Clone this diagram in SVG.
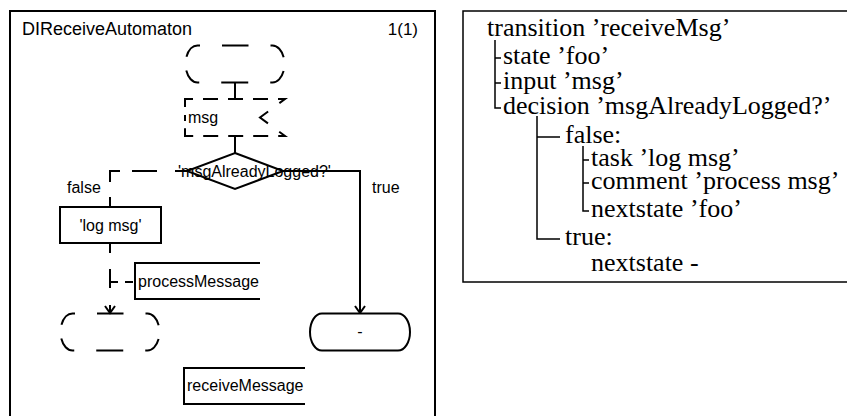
<svg xmlns="http://www.w3.org/2000/svg" width="847" height="416" viewBox="0 0 847 416">
  <style>
    .frame { fill: #fff; stroke: #000; stroke-width: 2; }
    .line { fill: none; stroke: #000; stroke-width: 2; }
    .shape { fill: #fff; stroke: #000; stroke-width: 2; }
    .ghost { fill: none; stroke: #000; stroke-width: 2; }
    .state-dash { stroke-dasharray: 13.5 22 19.2 14 19.2 22 27 22 19.2 14 19.2 22 13.5 0; }
    .lbl { font-family: "Liberation Sans", Arial, sans-serif; font-size: 16px; fill: #000; }
    .title { font-family: "Liberation Sans", Arial, sans-serif; font-size: 18px; fill: #000; }
    .pageno { font-family: "Liberation Sans", Arial, sans-serif; font-size: 17px; fill: #000; }
    .tree { font-family: "Liberation Serif", "Times New Roman", serif; font-size: 26px; fill: #000; }
    .branch { fill: none; stroke: #000; stroke-width: 1.5; }
  </style>
  <defs>
    <marker id="vhead" markerUnits="userSpaceOnUse" markerWidth="12" markerHeight="12" refX="0" refY="0" viewBox="-8 -6 10 12" orient="auto" overflow="visible">
      <path d="M-7,-5 L0,0 L-7,5" fill="none" stroke="#000" stroke-width="2"/>
    </marker>
  </defs>

  <!-- process page frame -->
  <g id="page">
    <rect class="frame" x="10" y="11" width="425" height="420"/>
    <text class="title" x="22" y="35">DIReceiveAutomaton</text>
    <text class="pageno" x="418" y="35" text-anchor="end">1(1)</text>
  </g>

  <!-- connectors -->
  <g id="connectors">
    <path class="line" d="M235,83 V99"/>
    <path class="line" d="M235,136 V153"/>
    <path class="line" d="M187,171 H110 V207" stroke-dasharray="12 18 25 12 21 15 10"/>
    <path class="line" d="M283,171 H360 V313" marker-end="url(#vhead)"/>
    <path class="line" d="M110,243 V313" stroke-dasharray="10 16 19 17 8" marker-end="url(#vhead)"/>
    <path class="line" d="M110,282 H135" stroke-dasharray="8 7 8 2"/>
  </g>

  <!-- state 'foo' (start) -->
  <g id="state-start">
    <path class="ghost state-dash" d="M235,45.5 H272.5 A12 18.5 0 0 1 272.5,82.5 H197.5 A12 18.5 0 0 1 197.5,45.5 Z"/>
  </g>

  <!-- input 'msg' -->
  <g id="input-msg">
    <path class="ghost" d="M185,117.5 V99 H285 L260,117.5 L285,136 H185 Z" stroke-dasharray="2.5 8 16 10 15 10 15 10 15 10 14 14 20 14 14 10 15 10 15 10 15 10 16 7.3 3.5 0"/>
    <text class="lbl" x="188" y="123">msg</text>
  </g>

  <!-- decision 'msgAlreadyLogged?' -->
  <g id="decision">
    <path class="shape" d="M235,153 L283,171 L235,189 L187,171 Z"/>
    <text class="lbl" x="178" y="177">'msgAlreadyLogged?'</text>
  </g>

  <g id="answer-false">
    <text class="lbl" x="67" y="193">false</text>
  </g>
  <g id="answer-true">
    <text class="lbl" x="372" y="193">true</text>
  </g>

  <!-- task 'log msg' -->
  <g id="task-log">
    <rect class="shape" x="60" y="207" width="101" height="36"/>
    <text class="lbl" x="110.5" y="231" text-anchor="middle">'log msg'</text>
  </g>

  <!-- comment attached to the task -->
  <g id="comment-process">
    <path class="line" d="M260,263 H135 V299 H260"/>
    <text class="lbl" x="138" y="287">processMessage</text>
  </g>

  <!-- nextstate 'foo' -->
  <g id="state-end">
    <path class="ghost state-dash" d="M110,313.5 H147.5 A12 18.5 0 0 1 147.5,350.5 H72.5 A12 18.5 0 0 1 72.5,313.5 Z"/>
  </g>

  <!-- nextstate - -->
  <g id="nextstate-dash">
    <path class="shape" d="M322,313.5 H398 A12 18.5 0 0 1 398,350.5 H322 A12 18.5 0 0 1 322,313.5 Z"/>
    <text class="lbl" x="360" y="337" text-anchor="middle">-</text>
  </g>

  <!-- transition comment -->
  <g id="comment-receive">
    <path class="line" d="M305,368 H184 V404 H305"/>
    <text class="lbl" x="187" y="391">receiveMessage</text>
  </g>

  <!-- textual outline of the transition -->
  <g id="outline">
    <rect x="463" y="11" width="420" height="271" fill="#fff" stroke="#000" stroke-width="1.5"/>
    <path class="branch" d="M495,40 V108 H501 M495,58 H501 M495,83 H501"/>
    <path class="branch" d="M537,116 V239 H560 M537,137 H560"/>
    <path class="branch" d="M583,146 V211 H589 M583,160 H589 M583,183 H589"/>
    <text class="tree" x="487" y="36">transition ’receiveMsg’</text>
    <text class="tree" x="503" y="64">state ’foo’</text>
    <text class="tree" x="503" y="89">input ’msg’</text>
    <text class="tree" x="503" y="114">decision ’msgAlreadyLogged?’</text>
    <text class="tree" x="565" y="143">false:</text>
    <text class="tree" x="591" y="166">task ’log msg’</text>
    <text class="tree" x="591" y="189">comment ’process msg’</text>
    <text class="tree" x="591" y="217">nextstate ’foo’</text>
    <text class="tree" x="565" y="245">true:</text>
    <text class="tree" x="591" y="271">nextstate -</text>
  </g>
</svg>
